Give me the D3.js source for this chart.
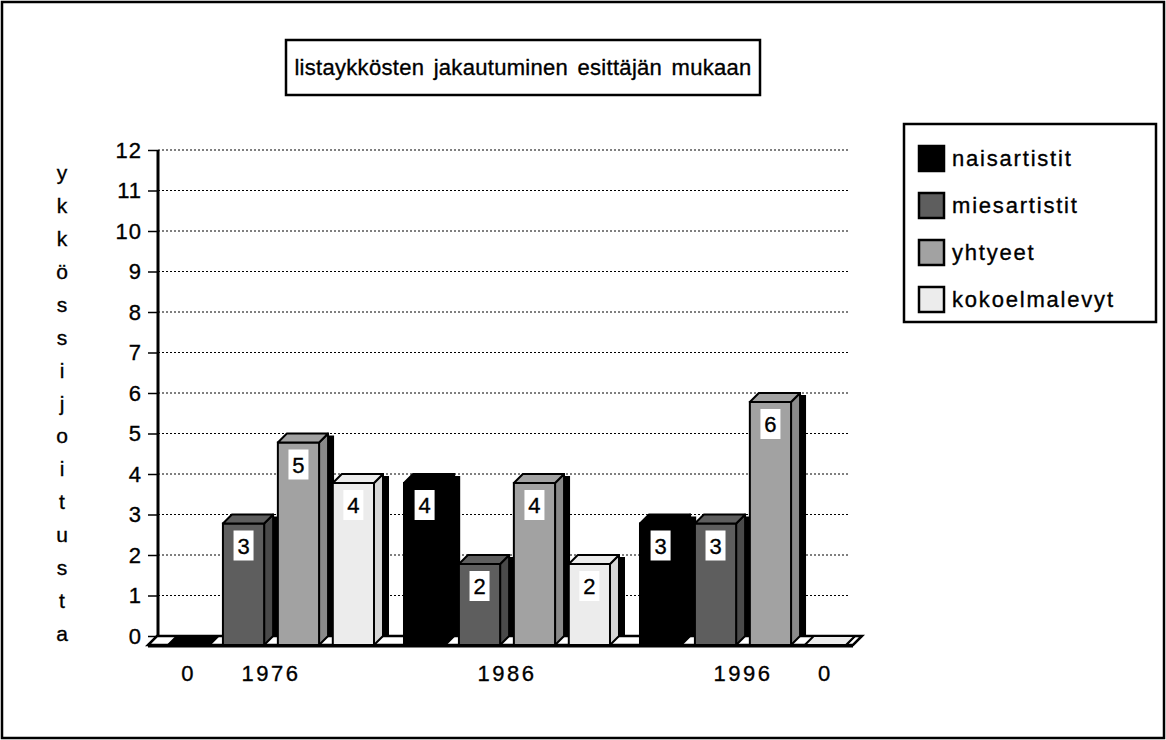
<!DOCTYPE html>
<html>
<head>
<meta charset="utf-8">
<script src="https://cdn.jsdelivr.net/npm/d3@7"></script>
<style>
  html, body { margin: 0; padding: 0; background: #fff; }
  svg { display: block; font-family: "Liberation Sans", Arial, sans-serif; }
  svg text { fill: #000; stroke: #000; stroke-width: 0.35px; }
</style>
</head>
<body>
<div id="chart"></div>
<script>
// data
const years = ["1976", "1986", "1996"];
const seriesNames = ["naisartistit", "miesartistit", "yhtyeet", "kokoelmalevyt"];
const naisartistit = [0, 4, 3];
const miesartistit = [3, 2, 3];
const yhtyeet = [5, 4, 6];
const kokoelmalevyt = [4, 2, 0];
const yTicks = [0, 1, 2, 3, 4, 5, 6, 7, 8, 9, 10, 11, 12];
const yTitle = "ykkössijoitusta";
const titleText = "listaykkösten jakautuminen esittäjän mukaan";

const seriesValues = [naisartistit, miesartistit, yhtyeet, kokoelmalevyt];
const fills = ["#000000", "#5e5e5e", "#a2a2a2", "#ececec"];
const sideFills = ["#000000", "#4a4a4a", "#8a8a8a", "#d6d6d6"];

const width = 1166, height = 740;
const depth = 9;

const svg = d3.select("#chart").append("svg")
    .attr("width", width)
    .attr("height", height);

// outer frame
svg.append("rect")
    .attr("x", 2).attr("y", 2)
    .attr("width", width - 4).attr("height", height - 4)
    .attr("fill", "#fff").attr("stroke", "#000").attr("stroke-width", 2.5);

// title
svg.append("rect")
    .attr("x", 286).attr("y", 40).attr("width", 474).attr("height", 55)
    .attr("fill", "#fff").attr("stroke", "#000").attr("stroke-width", 2.5);
svg.append("text")
    .attr("x", 523).attr("y", 75)
    .attr("text-anchor", "middle")
    .style("font-size", "22px")
    .style("letter-spacing", "0.3px")
    .style("word-spacing", "3px")
    .text(titleText);

// scales
const y = d3.scaleLinear().domain([0, 12]).range([636, 150]);
const x0 = d3.scaleBand().domain(years).range([168, 846]).paddingInner(0.127);
const x1 = d3.scaleBand().domain(seriesNames).range([0, 206]).paddingInner(0.25);
const w = x1.bandwidth();

const plotRight = 850;

// grid
svg.append("g").selectAll("line")
    .data(yTicks.filter(t => t > 0))
    .join("line")
    .attr("x1", 158).attr("x2", plotRight)
    .attr("y1", d => y(d)).attr("y2", d => y(d))
    .attr("stroke", "#000").attr("stroke-width", 1)
    .attr("stroke-dasharray", "2,2");

// axis
const yAxis = svg.append("g")
    .attr("transform", "translate(158,0)")
    .call(d3.axisLeft(y).tickValues(yTicks).tickSize(10).tickPadding(6));
yAxis.select(".domain").remove();
yAxis.selectAll(".tick line").attr("stroke", "#000").attr("stroke-width", 1.5);
yAxis.selectAll(".tick text")
    .style("font-family", "'Liberation Sans', Arial, sans-serif")
    .style("font-size", "22px")
    .style("letter-spacing", "1px")
    .attr("fill", "#000");
svg.append("line")
    .attr("x1", 158).attr("x2", 158)
    .attr("y1", y(12)).attr("y2", y(0))
    .attr("stroke", "#000").attr("stroke-width", 3);

// y title, one letter per line
const letters = Array.from(yTitle);
const ly = d3.scalePoint().domain(d3.range(letters.length)).range([173, 634]);
svg.append("g").selectAll("text")
    .data(letters)
    .join("text")
    .attr("x", 62)
    .attr("y", (d, i) => ly(i) + 7)
    .attr("text-anchor", "middle")
    .style("font-size", "21px")
    .text(d => d);

// floor
const fx0 = 148, fx1 = plotRight + 3;
svg.append("path")
    .attr("d", `M${fx0},${y(0) + depth} L${fx1},${y(0) + depth} L${fx1 + depth},${y(0)} L${fx0 + depth},${y(0)} Z`)
    .attr("fill", "#fff").attr("stroke", "#000").attr("stroke-width", 2.5)
    .attr("stroke-linejoin", "miter");
svg.append("line")
    .attr("x1", fx0).attr("x2", fx1)
    .attr("y1", y(0) + depth + 1).attr("y2", y(0) + depth + 1)
    .attr("stroke", "#000").attr("stroke-width", 3);

// bars
const bars = [];
years.forEach((yr, gi) => {
    seriesNames.forEach((s, si) => {
        bars.push({ year: yr, series: si, value: seriesValues[si][gi], x: x0(yr) + x1(s) });
    });
});

const barG = svg.append("g").selectAll("g")
    .data(bars)
    .join("g");

barG.each(function(d) {
    const g = d3.select(this);
    const X = d.x, yv = y(d.value), yb = y(0);
    // shadow behind
    if (d.value > 0) {
        g.append("rect")
            .attr("x", X + w + depth - 1).attr("y", yv + 2)
            .attr("width", 7).attr("height", yb - yv - 2)
            .attr("fill", "#000");
    }
    // side face
    g.append("path")
        .attr("d", `M${X + w},${yv + depth} L${X + w + depth},${yv} L${X + w + depth},${yb} L${X + w},${yb + depth} Z`)
        .attr("fill", sideFills[d.series]).attr("stroke", "#000").attr("stroke-width", 2)
        .attr("stroke-linejoin", "round");
    // front face
    g.append("rect")
        .attr("x", X).attr("y", yv + depth)
        .attr("width", w).attr("height", yb - yv)
        .attr("fill", fills[d.series]).attr("stroke", "#000").attr("stroke-width", 2);
    // top face
    g.append("path")
        .attr("d", `M${X},${yv + depth} L${X + w},${yv + depth} L${X + w + depth},${yv} L${X + depth},${yv} Z`)
        .attr("fill", d.series === 0 ? "#000" : fills[d.series]).attr("stroke", "#000").attr("stroke-width", 2)
        .attr("stroke-linejoin", "round");
    // value label
    if (d.value > 0) {
        const cx = X + w / 2;
        const top = yv + depth + 7;
        g.append("rect")
            .attr("x", cx - 10).attr("y", top)
            .attr("width", 20).attr("height", 30)
            .attr("fill", "#fff");
        g.append("text")
            .attr("x", cx).attr("y", top + 23)
            .attr("text-anchor", "middle")
            .style("font-size", "22px")
            .text(d.value);
    }
});

// x labels: years at group centers, "0" under empty bars
const xLabels = years.map(yr => ({ text: yr, x: x0(yr) + x0.bandwidth() / 2 }))
    .concat(bars.filter(b => b.value === 0).map(b => ({ text: "0", x: b.x + w / 2 })));
svg.append("g").selectAll("text")
    .data(xLabels)
    .join("text")
    .attr("x", d => d.x)
    .attr("y", 681)
    .attr("text-anchor", "middle")
    .style("font-size", "22px")
    .style("letter-spacing", "2.5px")
    .text(d => d.text);

// legend
const legend = svg.append("g");
legend.append("rect")
    .attr("x", 904).attr("y", 124).attr("width", 252).attr("height", 198)
    .attr("fill", "#fff").attr("stroke", "#000").attr("stroke-width", 2.5);
const li = legend.selectAll("g.item")
    .data(seriesNames)
    .join("g")
    .attr("class", "item")
    .attr("transform", (d, i) => `translate(919, ${146 + i * 47})`);
li.append("rect")
    .attr("width", 25).attr("height", 25)
    .attr("fill", (d, i) => fills[i])
    .attr("stroke", "#000").attr("stroke-width", 2.5);
li.append("text")
    .attr("x", 33).attr("y", 20)
    .style("font-size", "22px")
    .style("letter-spacing", "1.8px")
    .text(d => d);
</script>
</body>
</html>
